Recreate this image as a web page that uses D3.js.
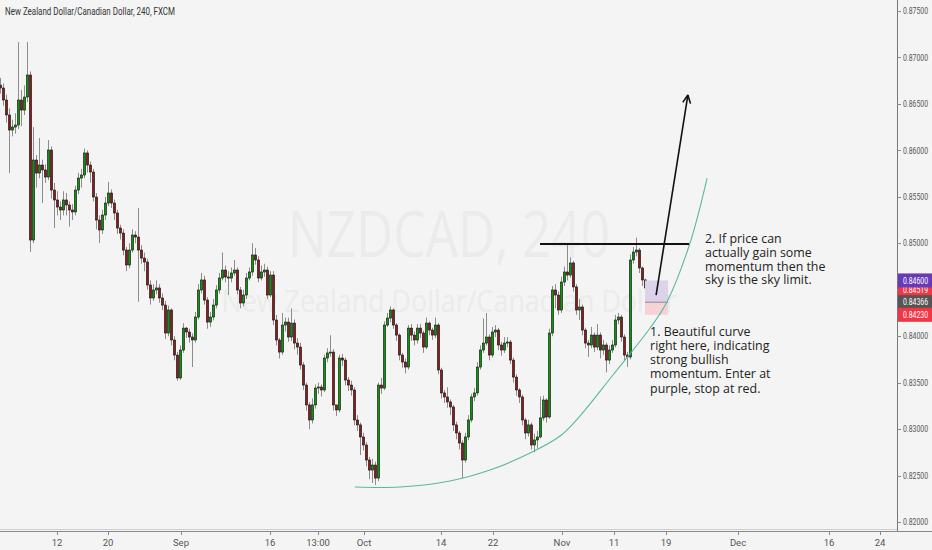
<!DOCTYPE html>
<html><head><meta charset="utf-8">
<script src="https://cdn.jsdelivr.net/npm/d3@7/dist/d3.min.js"></script>
<style>html,body{margin:0;padding:0;background:#f4f4f4;overflow:hidden}svg{display:block}</style>
</head><body>
<svg id="c" width="932" height="550"></svg>
<script>
const titleText = "New Zealand Dollar/Canadian Dollar, 240, FXCM";
const watermarkMain = "NZDCAD, 240";
const watermarkSub = "New Zealand Dollar/Canadian Dollar";
const firstOpen = 0.86703;
const closes = [
0.86671,0.86542,0.86381,0.86219,0.86251,0.86273,0.86542,0.86434,0.86574,0.86811,
0.85035,0.85896,0.85756,0.85842,0.85789,0.85713,0.86004,0.85573,0.85466,0.85390,
0.85358,0.85466,0.85412,0.85358,0.85337,0.85573,0.85702,0.85735,0.85972,0.85842,
0.85767,0.85498,0.85250,0.85143,0.85304,0.85433,0.85541,0.85433,0.85326,0.85164,
0.85110,0.84927,0.84766,0.84927,0.85089,0.85067,0.84927,0.84841,0.84798,0.84551,
0.84411,0.84497,0.84519,0.84411,0.84335,0.84034,0.84282,0.83959,0.83797,0.83550,
0.83851,0.84087,0.84045,0.83991,0.83959,0.84206,0.84497,0.84605,0.84389,0.84152,
0.84206,0.84335,0.84497,0.84626,0.84712,0.84637,0.84626,0.84680,0.84712,0.84497,
0.84357,0.84443,0.84626,0.84691,0.84874,0.84820,0.84626,0.84691,0.84712,0.84443,
0.84658,0.84174,0.83959,0.83829,0.84120,0.84152,0.83991,0.84141,0.83926,0.83883,
0.83690,0.83474,0.83260,0.83098,0.83260,0.83442,0.83453,0.83421,0.83765,0.83819,
0.83829,0.83260,0.83206,0.83765,0.83743,0.83528,0.83474,0.83421,0.83098,0.83045,
0.82915,0.82829,0.82667,0.82559,0.82613,0.82473,0.83474,0.83442,0.84120,0.84195,
0.84282,0.84120,0.84012,0.83797,0.83722,0.83668,0.84087,0.84012,0.83959,0.84087,
0.84034,0.83883,0.84141,0.84066,0.84012,0.84120,0.83636,0.83389,0.83346,0.83292,
0.83238,0.83045,0.82958,0.82850,0.82667,0.82915,0.83098,0.83346,0.83389,0.83668,
0.83851,0.83926,0.83991,0.83797,0.84045,0.84066,0.83905,0.83851,0.83926,0.83937,
0.83743,0.83560,0.83421,0.83346,0.83098,0.82958,0.83045,0.82829,0.82883,0.82915,
0.83120,0.83313,0.83130,0.84034,0.84497,0.84443,0.84282,0.84583,0.84691,0.84658,
0.84788,0.84530,0.84282,0.84314,0.84066,0.83926,0.83905,0.84012,0.83883,0.84012,
0.83851,0.83905,0.83743,0.83851,0.83905,0.84174,0.84206,0.83991,0.83797,0.83776,
0.84820,0.84906,0.84927,0.84734,0.84605,0.84519];
const highs = [
0.86780,0.86720,0.86600,0.86450,0.86330,0.86400,0.87166,0.86650,0.86700,0.87166,
0.86850,0.86251,0.85950,0.86133,0.85900,0.85850,0.86111,0.86040,0.85650,0.85560,
0.85450,0.85560,0.85540,0.85450,0.85420,0.85620,0.85760,0.85800,0.86020,0.86000,
0.85880,0.85800,0.85540,0.85300,0.85360,0.85500,0.85660,0.85580,0.85470,0.85360,
0.85200,0.85150,0.84960,0.85000,0.85150,0.85130,0.85380,0.84980,0.84900,0.84830,
0.84600,0.84560,0.84600,0.84560,0.84460,0.84380,0.84330,0.84300,0.84000,0.83830,
0.83900,0.84140,0.84100,0.84080,0.84030,0.84260,0.84560,0.84680,0.84650,0.84420,
0.84260,0.84400,0.84550,0.84680,0.84900,0.84760,0.84700,0.84740,0.84820,0.84740,
0.84530,0.84500,0.84680,0.84740,0.85000,0.84950,0.84860,0.84760,0.84780,0.84750,
0.84700,0.84700,0.84230,0.83980,0.84250,0.84200,0.84200,0.84300,0.84180,0.83980,
0.83930,0.83720,0.83500,0.83290,0.83330,0.83480,0.83500,0.83480,0.83800,0.83870,
0.84010,0.83860,0.83260,0.83800,0.83810,0.83770,0.83560,0.83520,0.83450,0.83150,
0.83070,0.82960,0.82860,0.82700,0.82680,0.82650,0.83500,0.83550,0.84160,0.84250,
0.84320,0.84300,0.84140,0.84030,0.83820,0.83760,0.84120,0.84130,0.84050,0.84130,
0.84130,0.84060,0.84200,0.84160,0.84090,0.84200,0.84140,0.83660,0.83420,0.83450,
0.83320,0.83260,0.83080,0.82980,0.82880,0.82960,0.83150,0.83380,0.83440,0.83720,
0.83900,0.84190,0.84250,0.84020,0.84100,0.84120,0.84090,0.83940,0.83990,0.83990,
0.83960,0.83770,0.83590,0.83440,0.83370,0.83120,0.83100,0.83070,0.82950,0.82980,
0.83350,0.83360,0.83330,0.84080,0.84540,0.84560,0.84480,0.84640,0.84750,0.85003,
0.84850,0.84810,0.84560,0.84400,0.84340,0.84090,0.83960,0.84100,0.84040,0.84130,
0.84040,0.83960,0.83930,0.83900,0.83960,0.84230,0.84250,0.84230,0.84020,0.83830,
0.84880,0.84960,0.85060,0.84950,0.84750,0.84620];
const lows = [
0.86610,0.86480,0.86300,0.85756,0.86150,0.86180,0.86230,0.86260,0.86380,0.86520,
0.84906,0.85000,0.85600,0.85700,0.85433,0.85650,0.85680,0.85480,0.85164,0.85300,
0.85250,0.85300,0.85300,0.85180,0.85250,0.85300,0.85530,0.85600,0.85700,0.85760,
0.85650,0.85450,0.85150,0.85003,0.85100,0.85250,0.85400,0.85380,0.85250,0.85100,
0.85040,0.84870,0.84700,0.84730,0.84900,0.85000,0.84370,0.84780,0.84700,0.84500,
0.84340,0.84380,0.84450,0.84360,0.84280,0.83970,0.84000,0.83900,0.83740,0.83520,
0.83530,0.83820,0.83980,0.83930,0.83668,0.83930,0.84180,0.84460,0.84340,0.84080,
0.84100,0.84170,0.84300,0.84460,0.84600,0.84580,0.84443,0.84580,0.84650,0.84450,
0.84300,0.84320,0.84400,0.84600,0.84650,0.84770,0.84580,0.84600,0.84640,0.84400,
0.84420,0.84120,0.83900,0.83760,0.83800,0.84050,0.83940,0.83950,0.83860,0.83800,
0.83640,0.83420,0.83200,0.82999,0.83060,0.83220,0.83380,0.83350,0.83400,0.83720,
0.83780,0.83200,0.83140,0.83180,0.83680,0.83470,0.83410,0.83360,0.83040,0.82980,
0.82720,0.82770,0.82600,0.82460,0.82420,0.82400,0.82440,0.83380,0.83420,0.84100,
0.84150,0.84080,0.83950,0.83740,0.83660,0.83600,0.83640,0.83950,0.83900,0.83920,
0.83980,0.83820,0.83860,0.84010,0.83960,0.83980,0.83590,0.83330,0.83280,0.83230,
0.83150,0.82980,0.82890,0.82780,0.82473,0.82640,0.82880,0.83070,0.83300,0.83360,
0.83640,0.83820,0.83900,0.83740,0.83770,0.83990,0.83850,0.83790,0.83820,0.83880,
0.83700,0.83500,0.83360,0.83280,0.83040,0.82890,0.82920,0.82780,0.82750,0.82790,
0.82900,0.83090,0.83070,0.83110,0.84000,0.84300,0.84230,0.84250,0.84540,0.84600,
0.84630,0.84480,0.84230,0.84174,0.84010,0.83870,0.83776,0.83870,0.83830,0.83850,
0.83760,0.83800,0.83610,0.83700,0.83820,0.83880,0.84130,0.83940,0.83740,0.83668,
0.83750,0.84780,0.84860,0.84680,0.84540,0.84320];

const priceTicks = [0.820,0.825,0.830,0.835,0.840,0.845,0.850,0.855,0.860,0.865,0.870,0.875];
const timeTickBars = [19,36,60.33,90,106,121.33,147,164.33,187.33,204.67,222,246,276.33,293.33];
const timeTickLabels = ["12","20","Sep","16","13:00","Oct","14","22","Nov","11","19","Dec","16","24"];

// drawings (in bar index / price units)
const resistanceLine = [[180,0.84992],[229.7,0.84992]];
const arrowLine = [[218.7,0.84443],[229.3,0.86596]];
const curvePts = [[118.3,0.82376],[133.3,0.82376],[150,0.82441],[163.3,0.82559],[176.7,0.82742],[186.7,0.82925],[193.3,0.83140],[204.3,0.83582],[216.7,0.84088],[222.3,0.84368],[230,0.85003],[235.7,0.85702]];
const positionBox = {x0:215, x1:222.7, target:0.84600, entry:0.84366, stop:0.84230};
const note2 = ["2. If price can","actually gain some","momentum then the","sky is the sky limit."];
const note1 = ["1. Beautiful curve","right here, indicating","strong bullish","momentum. Enter at","purple, stop at red."];
const note2Pos = [235, 0.84992];
const note1Pos = [216.7, 0.83990];

const svg = d3.select('#c');
const W = 932, H = 550, plotW = 897, plotH = 531;
const NARROW = '"Liberation Sans Narrow", "Arial Narrow", Roboto, sans-serif';
svg.append('rect').attr('width',W).attr('height',H).attr('fill','#f4f4f4');
const x = d3.scaleLinear().domain([0,299]).range([0,plotW]);
const y = d3.scaleLinear().domain([0.82,0.875]).range([522,11]);

svg.append('defs').append('clipPath').attr('id','clip').append('rect').attr('width',plotW).attr('height',plotH);
const plot = svg.append('g').attr('clip-path','url(#clip)');

function squeeze(sel, target){
  sel.each(function(){
    const len = this.getComputedTextLength();
    const t = typeof target === 'function' ? target(len) : target;
    d3.select(this).attr('textLength', t).attr('lengthAdjust','spacingAndGlyphs');
  });
}
// only squeeze when the narrow font is missing and the text came out too wide
function fitMax(sel, maxW){
  sel.each(function(){
    const len = this.getComputedTextLength();
    if (len > maxW) d3.select(this).attr('textLength', maxW).attr('lengthAdjust','spacingAndGlyphs');
  });
}

// watermark
plot.append('text').attr('x',449).attr('y',257).attr('text-anchor','middle')
  .attr('font-family','Open Sans, sans-serif').attr('font-size',64).attr('fill','#ebebeb')
  .text(watermarkMain).call(squeeze, 322);
plot.append('text').attr('x',449).attr('y',312).attr('text-anchor','middle')
  .attr('font-family','Open Sans, sans-serif').attr('font-size',31).attr('fill','#ebebeb')
  .text(watermarkSub).call(squeeze, 455);

// candles
const candles = closes.map((c,i)=>{
  const o = i ? closes[i-1] : firstOpen;
  return {i, o, c, h: Math.max(highs[i],o,c), l: Math.min(lows[i],o,c)};
});
plot.append('g').selectAll('line').data(candles).join('line')
  .attr('x1',d=>Math.round(x(d.i))+0.5).attr('x2',d=>Math.round(x(d.i))+0.5)
  .attr('y1',d=>y(d.h)).attr('y2',d=>y(d.l))
  .attr('stroke','#8c8c8c').attr('stroke-width',1);
plot.append('g').selectAll('rect').data(candles).join('rect')
  .attr('x',d=>Math.round(x(d.i))-0.6).attr('width',2.2)
  .attr('y',d=>y(Math.max(d.o,d.c)))
  .attr('height',d=>Math.max(1,Math.abs(y(d.o)-y(d.c))))
  .attr('fill',d=>d.c>=d.o?'#0a960a':'#8e1b1b')
  .attr('stroke','#111').attr('stroke-width',0.6);

// position box
plot.append('rect').attr('x',x(positionBox.x0)).attr('width',x(positionBox.x1)-x(positionBox.x0))
  .attr('y',y(positionBox.target)).attr('height',y(positionBox.entry)-y(positionBox.target))
  .attr('fill','#dcd3ea');
plot.append('rect').attr('x',x(positionBox.x0)).attr('width',x(positionBox.x1)-x(positionBox.x0))
  .attr('y',y(positionBox.entry)).attr('height',y(positionBox.stop)-y(positionBox.entry))
  .attr('fill','#f5d2d4');
plot.append('line').attr('x1',x(positionBox.x0)).attr('x2',x(positionBox.x1))
  .attr('y1',y(positionBox.entry)).attr('y2',y(positionBox.entry)).attr('stroke','#8a8a8a').attr('stroke-width',1);

// curve
const lineGen = d3.line().x(d=>x(d[0])).y(d=>y(d[1])).curve(d3.curveCatmullRom);
plot.append('path').attr('d',lineGen(curvePts)).attr('fill','none').attr('stroke','#5bb8a0').attr('stroke-width',1.1);

// resistance line
plot.append('line').attr('x1',x(resistanceLine[0][0])).attr('x2',x(resistanceLine[1][0]))
  .attr('y1',y(resistanceLine[0][1])).attr('y2',y(resistanceLine[1][1]))
  .attr('stroke','#111').attr('stroke-width',2);

// arrow
const ax1 = x(arrowLine[0][0]), ay1 = y(arrowLine[0][1]), ax2 = x(arrowLine[1][0]), ay2 = y(arrowLine[1][1]);
plot.append('line').attr('x1',ax1).attr('y1',ay1).attr('x2',ax2).attr('y2',ay2).attr('stroke','#111').attr('stroke-width',1.6);
const ang = Math.atan2(ay2-ay1, ax2-ax1);
[0.45,-0.45].forEach(da=>{
  plot.append('line').attr('x1',ax2).attr('y1',ay2)
    .attr('x2',ax2 - 9*Math.cos(ang+da)).attr('y2',ay2 - 9*Math.sin(ang+da))
    .attr('stroke','#111').attr('stroke-width',1.6);
});

// notes
function note(lines, pos, lh){
  const g = plot.append('g').attr('font-family','Open Sans, sans-serif').attr('font-size',12.4).attr('fill','#222');
  lines.forEach((s,k)=>g.append('text').attr('x',x(pos[0])).attr('y',y(pos[1])-1+k*lh).text(s));
}
note(note2, note2Pos, 13.8);
note(note1, note1Pos, 14.1);

// axes lines
svg.append('line').attr('x1',plotW+0.5).attr('x2',plotW+0.5).attr('y1',0).attr('y2',plotH+1).attr('stroke','#777');
svg.append('line').attr('x1',0).attr('x2',W).attr('y1',plotH+0.5).attr('y2',plotH+0.5).attr('stroke','#888');
svg.append('line').attr('x1',0).attr('x2',plotW).attr('y1',plotH-1.5).attr('y2',plotH-1.5).attr('stroke','#cfcfcf');

// right axis
const ra = svg.append('g');
priceTicks.forEach(v=>{
  ra.append('line').attr('x1',plotW).attr('x2',plotW+4).attr('y1',Math.round(y(v))+0.5).attr('y2',Math.round(y(v))+0.5).attr('stroke','#888');
  ra.append('text').attr('x',plotW+6).attr('y',y(v)+3.2).attr('font-family',NARROW).attr('font-size',9)
    .attr('fill','#555').text(d3.format('.5f')(v)).call(fitMax, 25);
});
// bottom axis
const ba = svg.append('g');
timeTickBars.forEach((b,k)=>{
  ba.append('line').attr('x1',Math.round(x(b))+0.5).attr('x2',Math.round(x(b))+0.5).attr('y1',plotH+1).attr('y2',plotH+4).attr('stroke','#888');
  ba.append('text').attr('x',x(b)).attr('y',546).attr('text-anchor','middle').attr('font-family',NARROW)
    .attr('font-size',9.5).attr('fill','#555').text(timeTickLabels[k]);
});

// price markers on axis
const lastClose = closes[closes.length-1];
const markers = [
  {v:lastClose, fill:'#f23645', dy:2},
  {v:positionBox.target, fill:'#673ab7', dy:0},
  {v:positionBox.entry, fill:'#555555', dy:0},
  {v:positionBox.stop, fill:'#f23645', dy:0}
];
markers.forEach(m=>{
  const yy = y(m.v)+m.dy;
  svg.append('rect').attr('x',plotW+1).attr('y',yy-7).attr('width',W-plotW-1).attr('height',14).attr('fill',m.fill);
  svg.append('text').attr('x',plotW+6).attr('y',yy+3.2).attr('font-family',NARROW).attr('font-size',9)
    .attr('fill','#fff').text(d3.format('.5f')(m.v)).call(fitMax, 25);
});

// title
svg.append('text').attr('x',5).attr('y',15).attr('font-family',NARROW).attr('font-size',10.5)
  .attr('fill','#333').text(titleText).call(fitMax, 170);
</script>
</body></html>
